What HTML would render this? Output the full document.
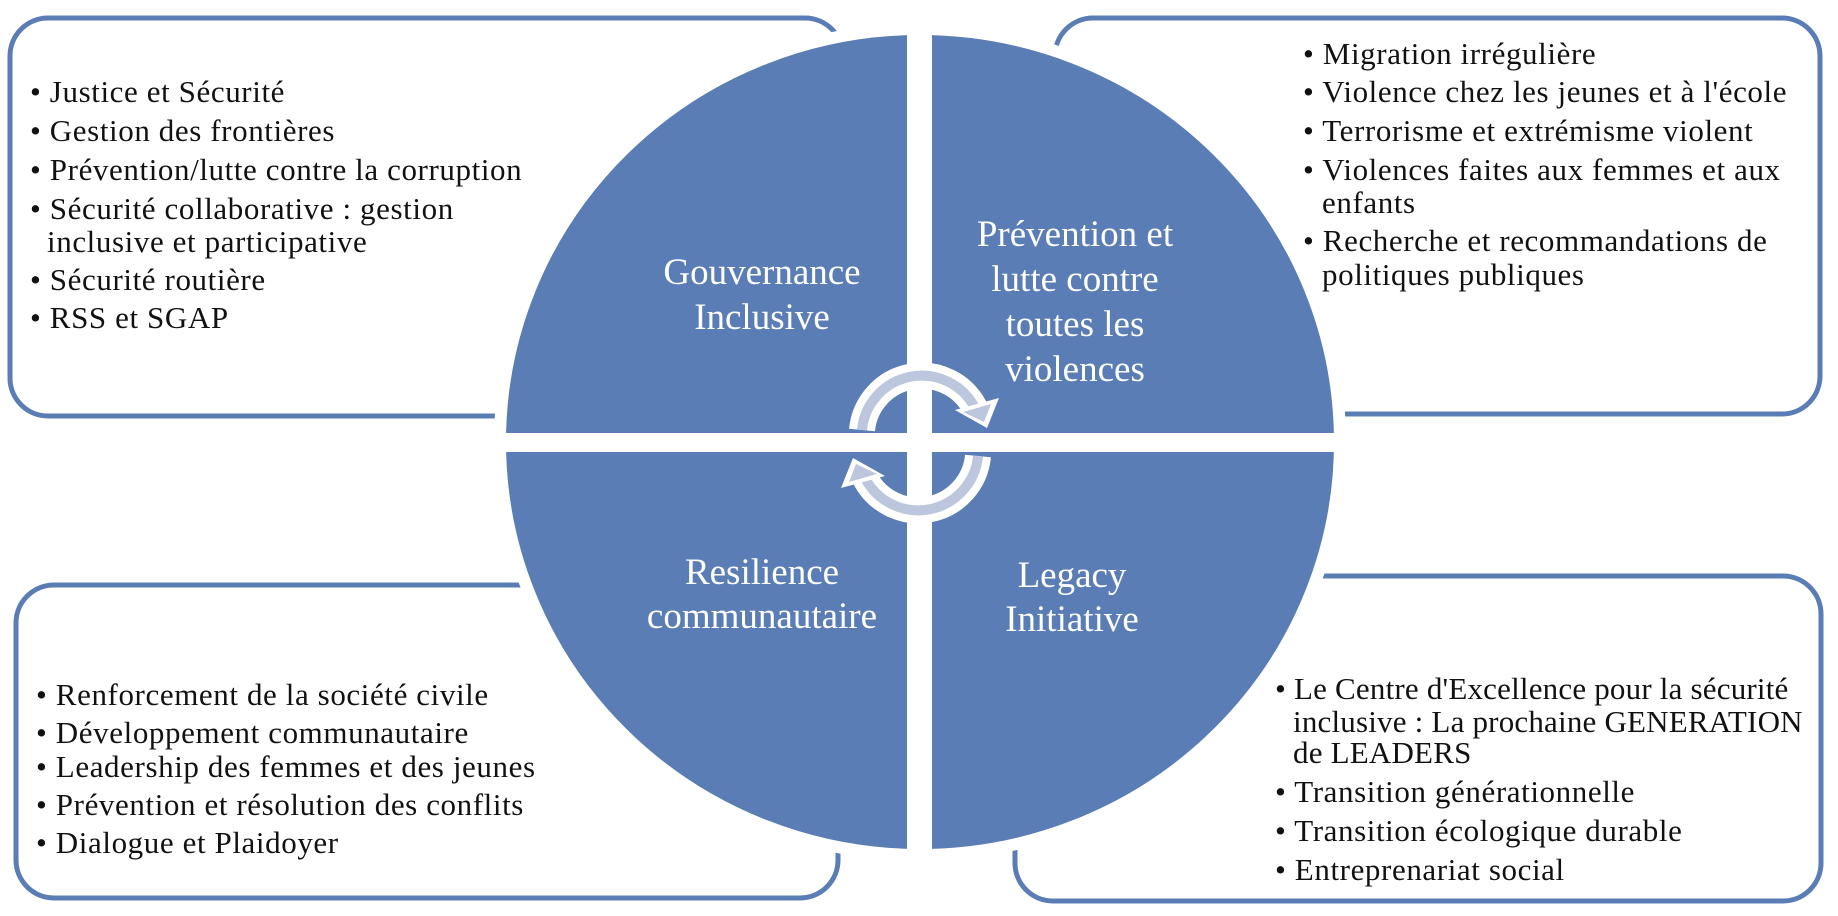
<!DOCTYPE html>
<html><head><meta charset="utf-8"><style>
html,body{margin:0;padding:0;background:#fff;}
svg{display:block}
text{font-family:"Liberation Serif",serif;}
.t{font-size:31px;fill:#111;letter-spacing:0.6px;}
.b{letter-spacing:0.2px;}
.l{font-size:37px;fill:#fff;text-anchor:middle;}
</style></head><body>
<svg width="1838" height="916" viewBox="0 0 1838 916" xmlns="http://www.w3.org/2000/svg">
<g fill="none" stroke="#5a7db5" stroke-width="5">
<rect x="10" y="18" width="833" height="398" rx="38"/>
<rect x="1055" y="18" width="765" height="396" rx="38"/>
<rect x="16" y="585" width="822" height="313" rx="38"/>
<rect x="1015" y="576" width="806" height="325" rx="38"/>
</g>
<ellipse cx="920" cy="442" rx="420" ry="413" fill="#5a7db5" stroke="#fff" stroke-width="12"/>
<rect x="907" y="0" width="25" height="916" fill="#fff"/>
<rect x="480" y="433" width="880" height="19" fill="#fff"/>
<g fill="none" stroke-linecap="butt">
<path d="M862,430 A60,60 0 0 1 975,408" stroke="#fff" stroke-width="26"/>
<path d="M862,430 A60,60 0 0 1 975,408" stroke="#bcc6dc" stroke-width="10"/>
<path d="M978,456 A60,60 0 0 1 865,478" stroke="#fff" stroke-width="26"/>
<path d="M978,456 A60,60 0 0 1 865,478" stroke="#bcc6dc" stroke-width="10"/>
</g>
<polygon points="955,410 999,398 987,428" fill="#fff"/>
<polygon points="963,412 991,404 984,422" fill="#bcc6dc"/>
<polygon points="885,476 841,488 853,458" fill="#fff"/>
<polygon points="877,474 849,482 856,464" fill="#bcc6dc"/>

<text class="l" x="762" y="284">Gouvernance</text>
<text class="l" x="762" y="329">Inclusive</text>
<text class="l" x="1075" y="246">Prévention et</text>
<text class="l" x="1075" y="291">lutte contre</text>
<text class="l" x="1075" y="336">toutes les</text>
<text class="l" x="1075" y="381">violences</text>
<text class="l" x="762" y="584">Resilience</text>
<text class="l" x="762" y="628">communautaire</text>
<text class="l" x="1072" y="587">Legacy</text>
<text class="l" x="1072" y="631">Initiative</text>

<g>
<text class="t" x="30" y="102">• Justice et Sécurité</text>
<text class="t" x="30" y="141">• Gestion des frontières</text>
<text class="t" x="30" y="180">• Prévention/lutte contre la corruption</text>
<text class="t" x="30" y="219">• Sécurité collaborative : gestion</text>
<text class="t" x="47" y="252">inclusive et participative</text>
<text class="t" x="30" y="290">• Sécurité routière</text>
<text class="t" x="30" y="328">• RSS et SGAP</text>

<text class="t" x="1303" y="64">• Migration irrégulière</text>
<text class="t" x="1303" y="102">• Violence chez les jeunes et à l'école</text>
<text class="t" x="1303" y="141">• Terrorisme et extrémisme violent</text>
<text class="t" x="1303" y="180">• Violences faites aux femmes et aux</text>
<text class="t" x="1322" y="213">enfants</text>
<text class="t" x="1303" y="251">• Recherche et recommandations de</text>
<text class="t" x="1322" y="285">politiques publiques</text>

<text class="t" x="36" y="705">• Renforcement de la société  civile</text>
<text class="t" x="36" y="743">• Développement communautaire</text>
<text class="t" x="36" y="777">• Leadership des femmes et des jeunes</text>
<text class="t" x="36" y="815">• Prévention et résolution des conflits</text>
<text class="t" x="36" y="853">• Dialogue et Plaidoyer</text>

<text class="t b" x="1275" y="699">• Le Centre d'Excellence pour la sécurité</text>
<text class="t b" x="1293" y="732">inclusive : La prochaine GENERATION</text>
<text class="t b" x="1293" y="763">de LEADERS</text>
<text class="t" x="1275" y="802">• Transition générationnelle</text>
<text class="t" x="1275" y="841">• Transition écologique durable</text>
<text class="t" x="1275" y="880">• Entreprenariat social</text>
</g>
</svg>
</body></html>
